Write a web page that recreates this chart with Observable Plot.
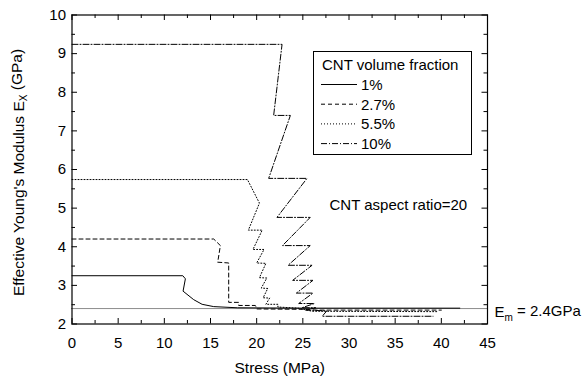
<!DOCTYPE html>
<html><head><meta charset="utf-8">
<script src="https://cdn.jsdelivr.net/npm/d3@7"></script>
<script src="https://cdn.jsdelivr.net/npm/@observablehq/plot@0.6"></script>
<style>body{margin:0;background:#fff}</style>
</head><body><div id="chart"></div>
<script>
// ---- data ----
const fractions = ["1%", "2.7%", "5.5%", "10%"];
const stress1  = [0, 12.0, 12.28, 12.03, 13.18, 14.09, 15.35, 17.9, 25, 42];
const modulus1 = [3.25, 3.25, 3.17, 2.85, 2.63, 2.51, 2.45, 2.42, 2.41, 2.41];
const stress27  = [0, 15.35, 16.07, 15.78, 16.97, 16.97, 18.05, 18.05, 19.86, 20.04, 25, 26.5, 40];
const modulus27 = [4.2, 4.2, 4.03, 3.6, 3.58, 2.56, 2.56, 2.48, 2.48, 2.39, 2.38, 2.36, 2.36];
const stress55  = [0, 19.0, 20.3, 19.1, 20.6, 19.6, 20.8, 20.0, 21.0, 20.3, 21.1, 20.5, 21.2, 20.7, 21.4, 21.0, 22.3, 22.3, 24.5, 26, 39.5];
const modulus55 = [5.74, 5.74, 5.13, 4.43, 4.43, 3.93, 3.93, 3.58, 3.57, 3.2, 3.19, 2.93, 2.92, 2.68, 2.67, 2.51, 2.51, 2.44, 2.41, 2.33, 2.32];
const stress10  = [0, 22.75, 21.84, 23.65, 21.3, 25.45, 22.2, 25.8, 22.8, 25.8, 23.4, 26.0, 23.9, 26.1, 24.3, 26.1, 24.55, 26.25, 24.9, 26.4, 25.3, 27.6, 27.1, 39.1];
const modulus10 = [9.24, 9.24, 7.40, 7.40, 5.77, 5.77, 4.76, 4.76, 4.03, 4.03, 3.52, 3.52, 3.13, 3.13, 2.80, 2.80, 2.53, 2.53, 2.42, 2.42, 2.36, 2.34, 2.2, 2.2];
const Em = 2.4;
const xTicks = [0, 5, 10, 15, 20, 25, 30, 35, 40, 45];
const xMinor = [2.5, 7.5, 12.5, 17.5, 22.5, 27.5, 32.5, 37.5, 42.5];
const yTicks = [2, 3, 4, 5, 6, 7, 8, 9, 10];
const yMinor = [2.5, 3.5, 4.5, 5.5, 6.5, 7.5, 8.5, 9.5];

// ---- build table ----
const seriesX = [stress1, stress27, stress55, stress10];
const seriesY = [modulus1, modulus27, modulus55, modulus10];
const rows = fractions.flatMap((f, s) => seriesX[s].map((x, i) => ({fraction: f, stress: x, modulus: seriesY[s][i]})));
const dashStyles = ["none", "4,3", "1,2", "6,2,1,2"];

const font = "'Liberation Sans', Arial, Helvetica, sans-serif";

const W = 587, H = 377, mL = 71.5, mR = 100, mT = 14.5, mB = 53.5;
const innerW = W - mL - mR, innerH = H - mT - mB;

// inward tick marks: short rules hugging each side of the frame
const tickMarks = [];
for (const [ticks, len] of [[xTicks, 5.5], [xMinor, 3.5]]) {
  tickMarks.push(Plot.ruleX(ticks, {x: d => d, insetTop: innerH - len, stroke: "black", strokeWidth: 1}));
  tickMarks.push(Plot.ruleX(ticks, {x: d => d, insetBottom: innerH - len, stroke: "black", strokeWidth: 1}));
}
for (const [ticks, len] of [[yTicks, 5.5], [yMinor, 3.5]]) {
  tickMarks.push(Plot.ruleY(ticks, {y: d => d, insetRight: innerW - len, stroke: "black", strokeWidth: 1}));
  tickMarks.push(Plot.ruleY(ticks, {y: d => d, insetLeft: innerW - len, stroke: "black", strokeWidth: 1}));
}

const plot = Plot.plot({
  width: W,
  height: H,
  marginLeft: mL,
  marginRight: mR,
  marginTop: mT,
  marginBottom: mB,
  style: {fontFamily: font, fontSize: "15px", color: "black", background: "white", overflow: "visible"},
  x: {domain: [0, 45]},
  y: {domain: [2, 10]},
  marks: [
    Plot.ruleY([Em], {stroke: "black", strokeWidth: 0.9, strokeDasharray: "1,1"}),
    ...fractions.map((f, s) => Plot.line(rows.filter(d => d.fraction === f), {
      x: "stress", y: "modulus", stroke: "black", strokeWidth: 1,
      strokeDasharray: dashStyles[s], strokeLinejoin: "miter"
    })),
    Plot.frame({stroke: "black", strokeWidth: 1.2}),
    ...tickMarks,
    Plot.axisX(xTicks, {anchor: "bottom", tickSize: 0, tickPadding: 13, fontSize: 15, label: null}),
    Plot.axisY(yTicks, {anchor: "left", tickSize: 0, tickPadding: 6, fontSize: 15, label: null}),
    Plot.text(["Stress (MPa)"], {text: d => d, frameAnchor: "bottom", dy: 44, fontSize: 15.5, lineAnchor: "middle", textAnchor: "middle"}),
    Plot.text(["Effective Young's Modulus E{X} (GPa)"], {text: d => d, frameAnchor: "left", dx: -53, dy: 3, rotate: -90, fontSize: 15.5, lineAnchor: "middle", textAnchor: "middle"}),
    Plot.text([Em], {y: d => d, text: d => `E{m} = ${d}GPa`, frameAnchor: "right", dx: 7, dy: 4, textAnchor: "start", fontSize: 15, lineAnchor: "middle"}),
    Plot.text(["CNT aspect ratio=20"], {text: d => d, frameAnchor: "top-left", dx: 257.5, dy: 190, textAnchor: "start", fontSize: 15, lineAnchor: "middle"})
  ]
});

// subscripts: replace {..} with tspans
d3.select(plot).selectAll("text").each(function () {
  const t = this.textContent;
  const m = t.match(/^(.*)\{(.+)\}(.*)$/);
  if (!m) return;
  const el = d3.select(this);
  el.text(null);
  el.append("tspan").text(m[1]);
  el.append("tspan").attr("dy", "0.35em").attr("font-size", "10px").text(m[2]);
  el.append("tspan").attr("dy", "-0.35em").text(m[3]);
});

// legend
const svg = d3.select(plot);
const g = svg.append("g").attr("font-family", font).attr("font-size", 15).attr("fill", "black").attr("text-anchor", "start");
g.append("rect").attr("x", 313.5).attr("y", 51.5).attr("width", 158).attr("height", 103)
  .attr("fill", "white").attr("stroke", "black").attr("stroke-width", 1);
g.append("text").attr("x", 322).attr("y", 70).attr("text-anchor", "start").text("CNT volume fraction");
fractions.forEach((f, i) => {
  const y = 84.5 + i * 19.7;
  g.append("line").attr("x1", 321).attr("x2", 357).attr("y1", y).attr("y2", y)
    .attr("stroke", "black").attr("stroke-width", 1)
    .attr("stroke-dasharray", dashStyles[i] === "none" ? null : dashStyles[i]);
  g.append("text").attr("x", 361).attr("y", y + 5.5).attr("text-anchor", "start").text(f);
});

document.getElementById("chart").appendChild(plot);
</script>
</body></html>
